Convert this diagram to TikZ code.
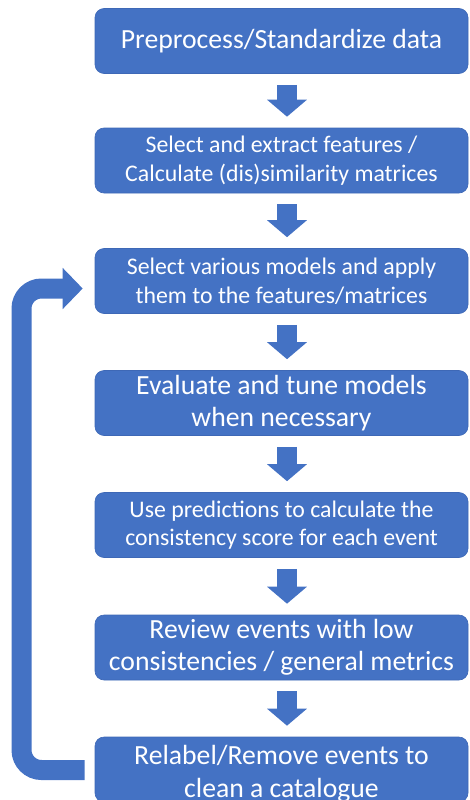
\documentclass[tikz,border=0pt]{standalone}
\usepackage{fontspec}
\setmainfont{Carlito}
\usetikzlibrary{arrows.meta,calc}
\definecolor{boxblue}{HTML}{4472C4}
\definecolor{edgeblue}{HTML}{3E68B6}
\begin{document}
\begin{tikzpicture}[x=1pt,y=-1pt,
  stepbox/.style={draw=edgeblue,line width=0.6pt,fill=boxblue,rounded corners=9pt,
    minimum width=373pt,minimum height=65pt,text=white,align=center,inner sep=0pt},
  big/.style={font=\fontsize{27.7}{32.5}\selectfont},
  small/.style={font=\fontsize{23.8}{28.5}\selectfont},
  downarrow/.style={boxblue,line width=20pt,-{Triangle[width=39pt,length=17pt]}},
  looparrow/.style={boxblue,line width=20pt,rounded corners=20pt,-{Triangle[width=40pt,length=20pt]}}]
\useasboundingbox (0,0) rectangle (470,800);
\node[stepbox,big]   (b1) at (281.5,41)    {Preprocess/Standardize data};
\node[stepbox,small] (b2) at (281.5,160.5) {Select and extract features /\\Calculate (dis)similarity matrices};
\node[stepbox,small] (b3) at (281.5,281)   {Select various models and apply\\them to the features/matrices};
\node[stepbox,big]   (b4) at (281.5,403)   {Evaluate and tune models\\when necessary};
\node[stepbox,small] (b5) at (281.5,525)   {Use predictions to calculate the\\consistency score for each event};
\node[stepbox,big]   (b6) at (281.5,647.5) {Review events with low\\consistencies / general metrics};
\node[stepbox,big]   (b7) at (281.5,769.5) {};
\node[big,text=white,align=center] (t7) at (281.5,774) {Relabel/Remove events to\\clean a catalogue};
\foreach \a/\b in {b1/b2,b2/b3,b3/b4,b4/b5,b5/b6,b6/b7}
  \draw[downarrow] ($(\a.south)+(5.5,11)$) -- ($(\b.north)+(5.5,-11)$);
\coordinate (lb) at (21.5,770);
\coordinate (lt) at (21.5,288.5);
\draw[looparrow] ($(b7.west)+(-10,0.5)$) -- (lb) -- (lt) -- ($(b3.west)+(-12,7.5)$);
\end{tikzpicture}
\end{document}
